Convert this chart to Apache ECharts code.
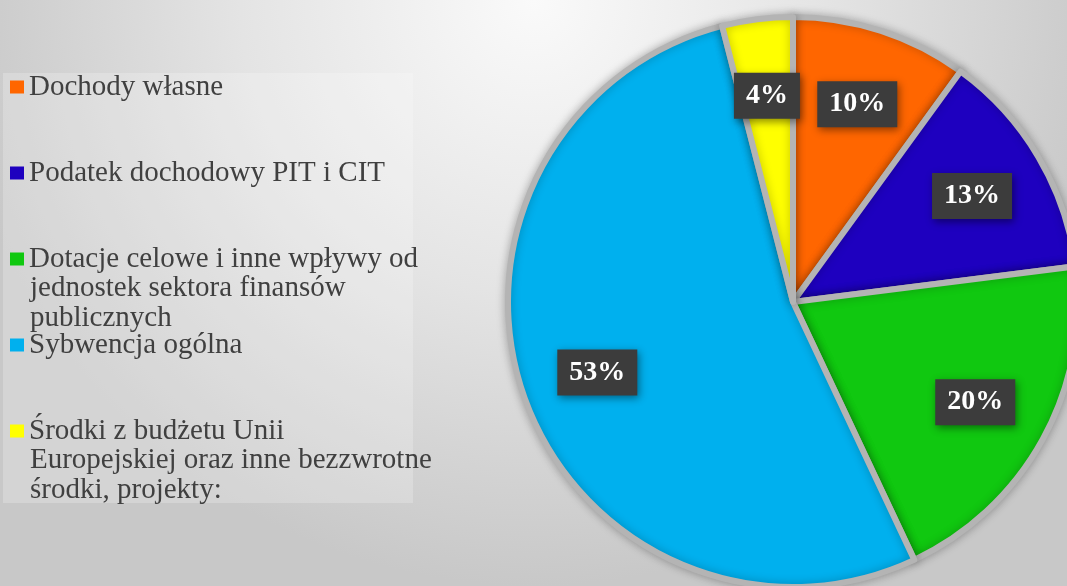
<!DOCTYPE html>
<html>

<head>
    <meta charset="UTF-8" />
    <title>Struktura dochodów</title>
    <script src="https://cdn.jsdelivr.net/npm/echarts@6/dist/echarts.min.js"></script>
    <style>
        html, body { margin: 0; padding: 0; }
        #chart { width: 1067px; height: 586px; }
    </style>
</head>

<body>
    <div id="chart"></div>

    <script type="text/javascript">
        // dane
        const categories = [
            "Dochody własne",
            "Podatek dochodowy PIT i CIT",
            "Dotacje celowe i inne wpływy od jednostek sektora finansów publicznych",
            "Sybwencja ogólna",
            "Środki z budżetu Unii Europejskiej oraz inne bezzwrotne środki, projekty:"
        ];
        // linie legendy (pierwsza linia w legendzie, reszta pod spodem)
        const legendLines = [
            ["Dochody własne"],
            ["Podatek dochodowy PIT i CIT"],
            ["Dotacje celowe i inne wpływy od", "jednostek sektora finansów", "publicznych"],
            ["Sybwencja ogólna"],
            ["Środki z budżetu Unii", "Europejskiej oraz inne bezzwrotne", "środki, projekty:"]
        ];
        const shares = [10, 13, 20, 53, 4];
        const colors = ["#ff6600", "#1e00bf", "#10c810", "#00b0ee", "#ffff00"];

        const legendTop = 72;
        const legendRow = 86;   // odstep miedzy pozycjami legendy
        const lineH = 30;

        let chart = echarts.init(document.getElementById("chart"));

        let pieData = categories.map((name, i) => ({
            name: name,
            value: shares[i],
            itemStyle: { color: colors[i] }
        }));

        // dalsze linie wieloliniowych pozycji legendy
        let extraText = [];
        legendLines.forEach((lines, i) => {
            if (lines.length > 1) {
                extraText.push({
                    type: 'text',
                    left: 30,
                    top: legendTop + i * legendRow + lineH - 1,
                    silent: true,
                    style: {
                        text: lines.slice(1).join('\n'),
                        font: '29px "Liberation Serif"',
                        lineHeight: 30,
                        fill: '#404040'
                    }
                });
            }
        });

        let option = {
            animation: false,
            backgroundColor: {
                type: 'radial', x: 0.5, y: 0.0, r: 1.0,
                colorStops: [
                    { offset: 0, color: '#fafafa' },
                    { offset: 0.5, color: '#e4e4e4' },
                    { offset: 1, color: '#c8c8c8' }
                ]
            },
            graphic: [{
                type: 'rect',
                left: 3, top: 73,
                shape: { width: 410, height: 430 },
                style: { fill: 'rgba(255,255,255,0.22)' },
                silent: true
            }].concat(extraText),
            legend: {
                orient: 'vertical',
                left: 10,
                top: legendTop,
                padding: 0,
                itemGap: legendRow - lineH,
                itemWidth: 14,
                itemHeight: 13,
                icon: 'rect',
                selectedMode: false,
                data: categories,
                itemStyle: { borderWidth: 0, shadowBlur: 0 },
                formatter: name => legendLines[categories.indexOf(name)][0],
                textStyle: {
                    fontFamily: 'Liberation Serif',
                    fontSize: 29,
                    color: '#404040',
                    lineHeight: lineH
                }
            },
            series: [
                {
                    // kolo
                    type: 'pie',
                    center: [793, 302],
                    radius: [0, 285],
                    startAngle: 90,
                    clockwise: true,
                    silent: true,
                    label: { show: false },
                    labelLine: { show: false },
                    itemStyle: {
                        borderColor: '#b4b4b4',
                        borderWidth: 6,
                        shadowBlur: 10,
                        shadowColor: 'rgba(0,0,0,0.25)'
                    },
                    data: pieData
                },
                {
                    // etykiety procentowe
                    type: 'pie',
                    center: [793, 302],
                    radius: [125, 285],
                    startAngle: 90,
                    clockwise: true,
                    silent: true,
                    itemStyle: { color: 'transparent' },
                    labelLine: { show: false },
                    label: {
                        show: true,
                        position: 'inside',
                        formatter: p => p.value + '%',
                        fontFamily: 'Liberation Serif',
                        fontWeight: 'bold',
                        fontSize: 28,
                        lineHeight: 32,
                        color: '#ffffff',
                        backgroundColor: '#3c3c3c',
                        padding: [7, 12, 7, 12],
                        shadowBlur: 8,
                        shadowColor: 'rgba(0,0,0,0.45)',
                        shadowOffsetX: 2,
                        shadowOffsetY: 3
                    },
                    data: categories.map((name, i) => ({ name: name, value: shares[i] }))
                }
            ]
        };
        chart.setOption(option);
    </script>
</body>

</html>
